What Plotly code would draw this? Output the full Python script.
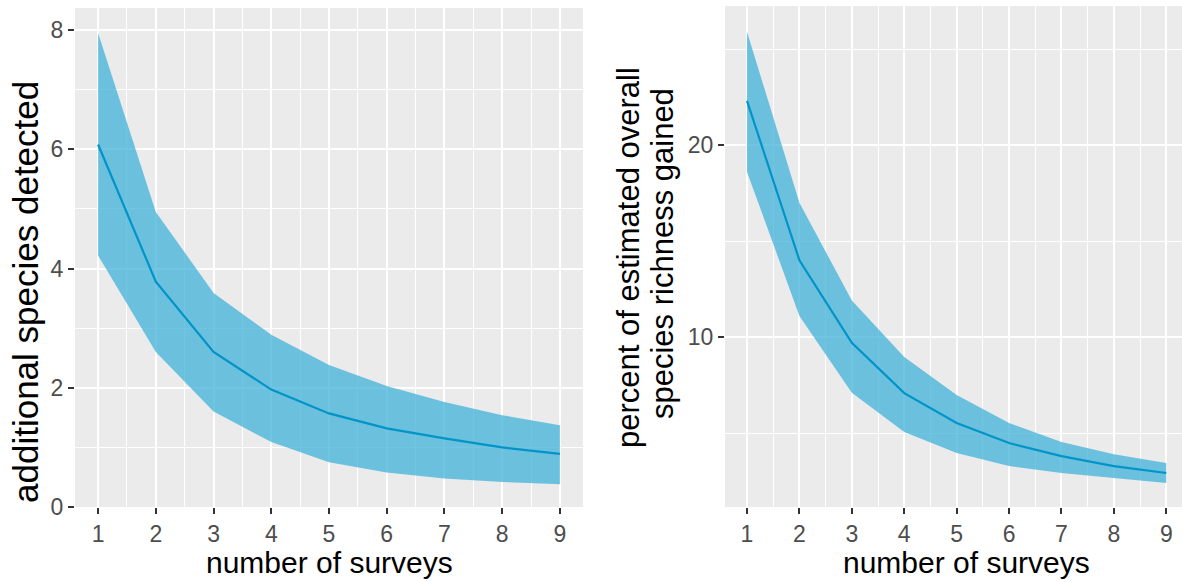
import plotly.graph_objects as go

surveys = [1, 2, 3, 4, 5, 6, 7, 8, 9]

# left panel: additional species detected
add_mean = [6.08, 3.78, 2.60, 1.97, 1.57, 1.32, 1.15, 1.00, 0.89]
add_low = [4.22, 2.60, 1.60, 1.09, 0.75, 0.58, 0.48, 0.42, 0.38]
add_high = [7.95, 4.95, 3.59, 2.89, 2.38, 2.03, 1.76, 1.54, 1.37]

# right panel: percent of estimated overall species richness gained
pct_mean = [22.3, 14.0, 9.7, 7.08, 5.52, 4.48, 3.80, 3.28, 2.92]
pct_low = [18.6, 11.1, 7.1, 5.05, 3.96, 3.28, 2.92, 2.66, 2.40]
pct_high = [25.9, 17.0, 11.9, 8.96, 6.98, 5.52, 4.53, 3.90, 3.44]

x_title = "number of surveys"
left_title = "additional species detected"
right_title_1 = "percent of estimated overall"
right_title_2 = "species richness gained"

FILL = "rgba(64,178,218,0.75)"
LINE = "rgb(0,148,200)"
BG = "#EBEBEB"
TICKC = "#4D4D4D"
FONT = "Liberation Sans, Arial, sans-serif"

fig = go.Figure()

def add_panel(xa, ya, low, high, mean):
    fig.add_trace(go.Scatter(x=surveys, y=low, mode="lines", line=dict(width=0),
                             xaxis=xa, yaxis=ya, showlegend=False, hoverinfo="skip"))
    fig.add_trace(go.Scatter(x=surveys, y=high, mode="lines", line=dict(width=0),
                             fill="tonexty", fillcolor=FILL,
                             xaxis=xa, yaxis=ya, showlegend=False, hoverinfo="skip"))
    fig.add_trace(go.Scatter(x=surveys, y=mean, mode="lines", line=dict(color=LINE, width=2.2),
                             xaxis=xa, yaxis=ya, showlegend=False))

add_panel("x", "y", add_low, add_high, add_mean)
add_panel("x2", "y2", pct_low, pct_high, pct_mean)

W, H = 1182, 582

def xaxis_common(domain, rng, anchor):
    return dict(
        domain=domain, range=rng, tickmode="linear", tick0=1, dtick=1, anchor=anchor,
        showgrid=True, gridcolor="white", gridwidth=2,
        minor=dict(tick0=0.5, dtick=0.5, showgrid=True, gridcolor="white", gridwidth=1, ticklen=0),
        ticks="outside", ticklen=6, tickwidth=2, tickcolor="#333333",
        tickfont=dict(size=23, color=TICKC, family=FONT),
        zeroline=False, showline=False, automargin=False,
    )

def yaxis_common(domain, rng, dtick, minor_dtick, anchor):
    return dict(
        domain=domain, range=rng, tickmode="linear", tick0=0, dtick=dtick, anchor=anchor,
        showgrid=True, gridcolor="white", gridwidth=2,
        minor=dict(tick0=0, dtick=minor_dtick, showgrid=True, gridcolor="white", gridwidth=1, ticklen=0),
        ticks="outside", ticklen=6, tickwidth=2, tickcolor="#333333",
        tickfont=dict(size=23, color=TICKC, family=FONT),
        zeroline=False, showline=False, automargin=False,
    )

def ann(text, xpx, ypx, size, angle=0):
    return dict(text=text, x=xpx / W, y=1 - ypx / H, xref="paper", yref="paper",
                xanchor="center", yanchor="middle", showarrow=False, textangle=angle,
                font=dict(size=size, color="black", family=FONT))

fig.update_layout(
    width=W, height=H,
    margin=dict(l=0, r=0, t=0, b=0),
    paper_bgcolor="white", plot_bgcolor=BG,
    font=dict(family=FONT),
    xaxis=xaxis_common([75 / W, 583 / W], [0.6, 9.4], "y"),
    yaxis=yaxis_common([1 - 507 / H, 1 - 8 / H], [0, 8.37], 2, 1, "x"),
    xaxis2=xaxis_common([725 / W, 1.0], [0.58, 9.3], "y2"),
    yaxis2=yaxis_common([1 - 507 / H, 1 - 6 / H], [1.15, 27.24], 10, 5, "x2"),
    annotations=[
        ann(x_title, 329, 562, 30),
        ann(x_title, 966, 562, 30),
        ann(left_title, 25, 292, 35, -90),
        ann(right_title_1, 628, 258, 31, -90),
        ann(right_title_2, 662, 254, 31, -90),
    ],
)

fig.write_html("out.html", config={"displayModeBar": False},
               post_script="document.body.style.margin='0';document.body.style.overflow='hidden';")
